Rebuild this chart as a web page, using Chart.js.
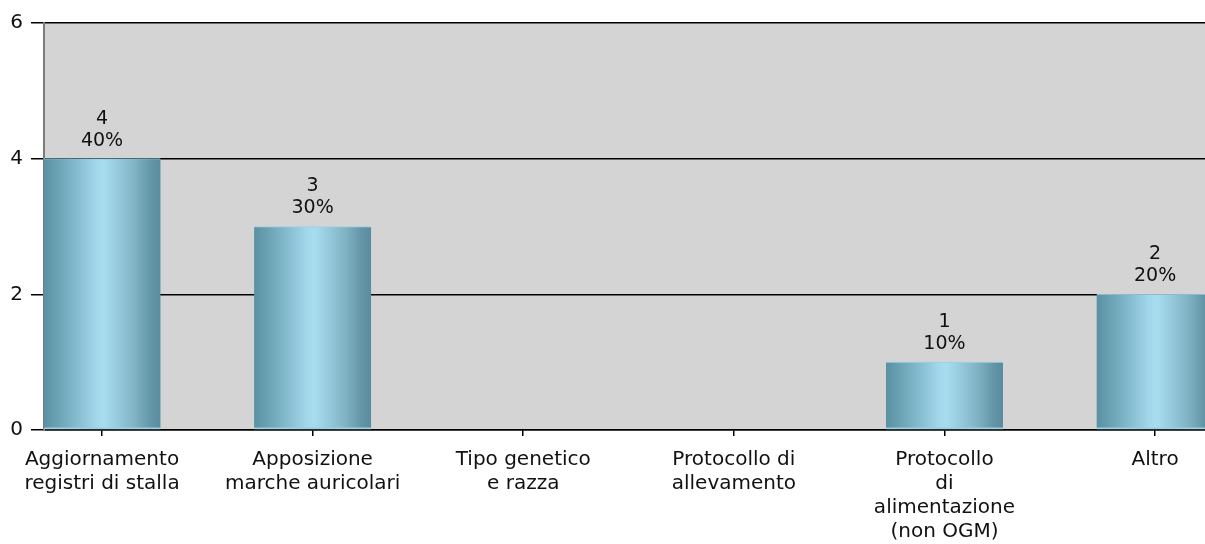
<!DOCTYPE html>
<html>
<head>
<meta charset="utf-8">
<title>Aggiornamento attività</title>
<script src="https://cdn.jsdelivr.net/npm/chart.js@4/dist/chart.umd.min.js"></script>
<style>
  html, body { margin: 0; padding: 0; background: #fff; }
  #wrap { width: 1205px; height: 544px; }
</style>
</head>
<body>
<div id="wrap"><canvas id="myChart" width="1205" height="544"></canvas></div>
<script>
// categories (multi-line labels) and answer counts
const categories = [
  ["Aggiornamento", "registri di stalla"],
  ["Apposizione", "marche auricolari"],
  ["Tipo genetico", "e razza"],
  ["Protocollo di", "allevamento"],
  ["Protocollo", "di", "alimentazione", "(non OGM)"],
  ["Altro"],
];
const counts = [4, 3, 0, 0, 1, 2];
const yTicks = [0, 2, 4, 6];

const total = counts.reduce((a, b) => a + b, 0);
const family = "'DejaVu Sans', sans-serif";
const font = { family: family, size: 19 };

// cylinder look: dark edges, light middle
function barGradient(context) {
  const chart = context.chart;
  const x = chart.scales && chart.scales.x;
  if (!counts[context.dataIndex]) return "rgba(0,0,0,0)";
  if (!chart.chartArea || !x) return "#8cc4d6";
  const cx = x.getPixelForValue(context.dataIndex);
  const g = chart.ctx.createLinearGradient(cx - 58.5, 0, cx + 58.5, 0);
  g.addColorStop(0, "#5990a2");
  g.addColorStop(0.15, "#6fa6b8");
  g.addColorStop(0.45, "#a3d7eb");
  g.addColorStop(0.52, "#a7dcef");
  g.addColorStop(0.78, "#80b3c4");
  g.addColorStop(0.92, "#6395a7");
  g.addColorStop(1, "#588c9e");
  return g;
}

const plotBackground = {
  id: "plotBackground",
  beforeDraw(chart) {
    const { ctx, chartArea: a } = chart;
    ctx.save();
    ctx.fillStyle = "#d4d4d4";
    ctx.fillRect(a.left, a.top, a.right - a.left, a.bottom - a.top);
    ctx.restore();
  },
};

// count and percentage above each bar
const valueLabels = {
  id: "valueLabels",
  afterDatasetsDraw(chart) {
    const ctx = chart.ctx;
    const meta = chart.getDatasetMeta(0);
    ctx.save();
    ctx.font = `${font.size}px ${font.family}`;
    ctx.fillStyle = "#111";
    ctx.textAlign = "center";
    ctx.textBaseline = "middle";
    meta.data.forEach((bar, i) => {
      if (!counts[i]) return;
      const pct = Math.round((counts[i] / total) * 100);
      ctx.fillText(String(counts[i]), bar.x, bar.y - 40);
      ctx.fillText(pct + "%", bar.x, bar.y - 18);
    });
    ctx.restore();
  },
};

const config = {
  type: "bar",
  data: {
    datasets: [
      {
        data: categories.map((_, i) => ({ x: i, y: counts[i] })),
        backgroundColor: barGradient,
        borderColor: "rgba(150, 208, 228, 0.9)",
        borderWidth: (c) =>
          counts[c.dataIndex] ? { top: 1, bottom: 2, left: 0, right: 0 } : 0,
        borderSkipped: false,
        barThickness: 117,
      },
    ],
  },
  options: {
    responsive: false,
    animation: false,
    layout: { padding: { top: 23, left: 0, right: 0, bottom: 0 } },
    plugins: { legend: { display: false }, tooltip: { enabled: false } },
    scales: {
      x: {
        type: "linear",
        offset: false,
        min: -0.2755,
        max: 5.237,
        afterBuildTicks: (scale) => {
          scale.ticks = categories.map((_, i) => ({ value: i }));
        },
        afterFit: (scale) => {
          scale.height = 114;
        },
        grid: {
          offset: false,
          drawOnChartArea: false,
          drawTicks: true,
          tickLength: 6,
          color: "#000",
          lineWidth: 1.5,
        },
        border: { display: true, color: "#000", width: 1.5 },
        ticks: {
          autoSkip: false,
          maxRotation: 0,
          minRotation: 0,
          padding: 12,
          color: "#111",
          font: { family: family, size: 20, lineHeight: 1.2 },
          callback: (v) => categories[v] || "",
        },
      },
      y: {
        min: 0,
        max: 6,
        afterBuildTicks: (scale) => {
          scale.ticks = yTicks.map((v) => ({ value: v }));
        },
        afterFit: (scale) => {
          scale.width = 44;
        },
        grid: { color: "#000", lineWidth: 1.5, tickLength: 13 },
        border: { display: true, color: "#7a7a7a", width: 2 },
        ticks: { padding: 8, color: "#111", font: { family: family, size: 20 } },
      },
    },
  },
  plugins: [plotBackground, valueLabels],
};

const myChart = new Chart(document.getElementById("myChart"), config);
</script>
</body>
</html>
